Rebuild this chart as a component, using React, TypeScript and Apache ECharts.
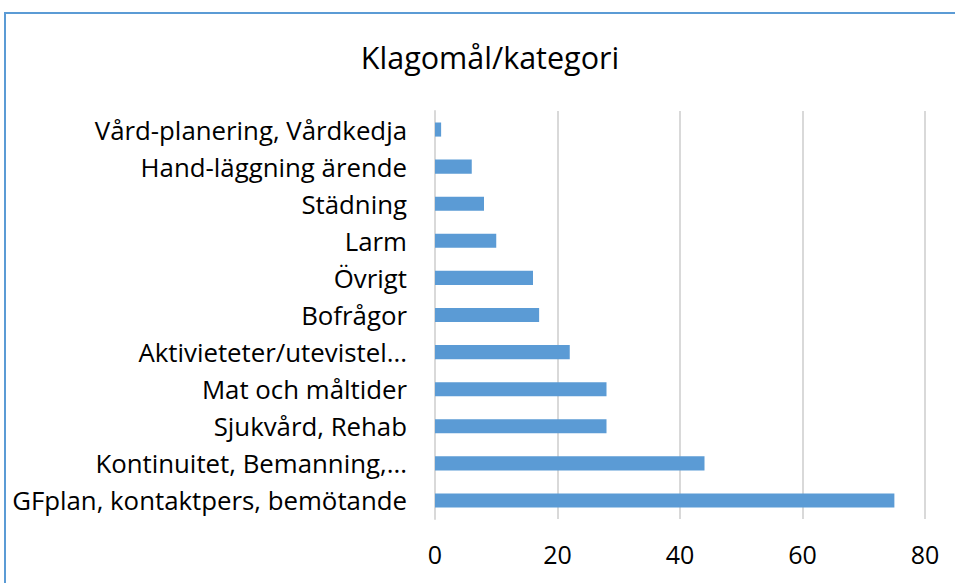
import React, { useEffect, useRef } from "react";
import * as echarts from "echarts";

const categories = [
  "Vård-planering, Vårdkedja",
  "Hand-läggning ärende",
  "Städning",
  "Larm",
  "Övrigt",
  "Bofrågor",
  "Aktivieteter/utevistel...",
  "Mat och måltider",
  "Sjukvård, Rehab",
  "Kontinuitet, Bemanning,...",
  "GFplan, kontaktpers, bemötande",
];
const values = [1, 6, 8, 10, 16, 17, 22, 28, 28, 44, 75];
const titleText = "Klagomål/kategori";

export default function App() {
  const ref = useRef<HTMLDivElement>(null);
  useEffect(() => {
    if (!ref.current) return;
    const chart = echarts.init(ref.current, null, { renderer: "svg" });
    const font = "'Open Sans', 'Liberation Sans', sans-serif";
    chart.setOption({
      animation: false,
      backgroundColor: "#ffffff",
      graphic: [
        {
          type: "rect",
          shape: { x: 5, y: 13, width: 1200, height: 1000 },
          style: { fill: "none", stroke: "#5b9bd5", lineWidth: 2 },
          silent: true,
        },
        {
          type: "text",
          x: 490,
          y: 57,
          style: {
            text: titleText,
            fontFamily: font,
            fontSize: 30.5,
            fill: "#000000",
            textAlign: "center",
            textVerticalAlign: "middle",
          },
        },
      ],
      grid: { left: 435, right: 30, top: 111, bottom: 64, containLabel: false },
      xAxis: {
        type: "value",
        min: 0,
        max: 80,
        interval: 20,
        axisLine: { show: false },
        axisTick: { show: false },
        splitLine: { show: true, lineStyle: { color: "#d9d9d9", width: 2 } },
        axisLabel: { fontFamily: font, fontSize: 25, color: "#000000", margin: 22 },
      },
      yAxis: {
        type: "category",
        inverse: true,
        data: categories,
        axisLine: { show: true, lineStyle: { color: "#d9d9d9", width: 2 } },
        axisTick: { show: false },
        axisLabel: { fontFamily: font, fontSize: 25.8, color: "#000000", margin: 28 },
      },
      series: [
        {
          type: "bar",
          data: values,
          barWidth: "38%",
          itemStyle: { color: "#5b9bd5" },
        },
      ],
    });
    return () => chart.dispose();
  }, []);
  return (
    <div
      ref={ref}
      style={{ position: "fixed", left: 0, top: 0, width: 955, height: 583 }}
    />
  );
}
